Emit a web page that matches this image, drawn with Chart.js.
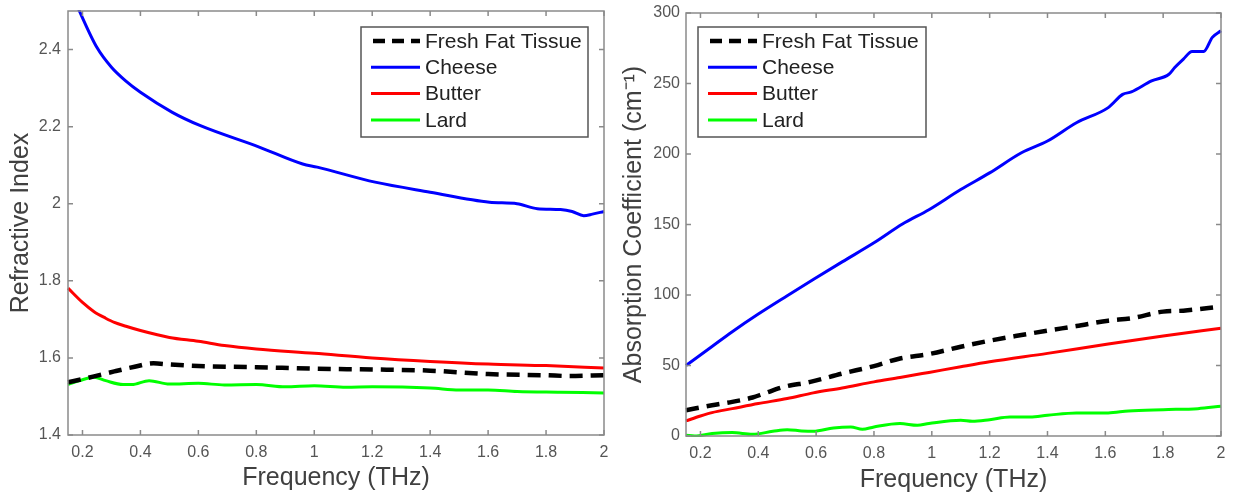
<!DOCTYPE html>
<html>
<head>
<meta charset="utf-8">
<script src="https://cdn.jsdelivr.net/npm/chart.js@4.4.1/dist/chart.umd.min.js"></script>
<style>
  html, body { margin: 0; padding: 0; background: #ffffff; }
  #wrap { position: relative; width: 1233px; height: 497px; overflow: hidden; }
  .panel { position: absolute; top: 0; height: 497px; }
  #p1 { left: 0; width: 616px; }
  #p2 { left: 616px; width: 617px; }
</style>
</head>
<body>
<div id="wrap">
  <div class="panel" id="p1"><canvas id="c1"></canvas></div>
  <div class="panel" id="p2"><canvas id="c2"></canvas></div>
</div>
<script>
// ---- series names and tick values ----
const seriesNames = ['Fresh Fat Tissue', 'Cheese', 'Butter', 'Lard'];
const freqTicks  = [0.2, 0.4, 0.6, 0.8, 1, 1.2, 1.4, 1.6, 1.8, 2];
const indexTicks = [1.4, 1.6, 1.8, 2, 2.2, 2.4];
const absTicks   = [0, 50, 100, 150, 200, 250, 300];

// ---- refractive index (THz, n) ----
const riFatFreq = [0.15, 0.2, 0.24, 0.31, 0.38, 0.445, 0.5, 0.6, 0.8, 1.0, 1.2, 1.4, 1.6, 1.8, 1.88, 2.0];
const riFatVal  = [1.537, 1.545, 1.552, 1.565, 1.577, 1.586, 1.583, 1.579, 1.576, 1.572, 1.570, 1.567, 1.558, 1.555, 1.553, 1.555];

const riCheeseFreq = [0.15, 0.19, 0.25, 0.3, 0.35, 0.4, 0.51, 0.605, 0.81, 0.96, 1.01, 1.21, 1.4, 1.605, 1.7, 1.77, 1.85, 1.89, 1.93, 1.96, 2.0];
const riCheeseVal  = [2.57, 2.499, 2.405, 2.354, 2.318, 2.289, 2.237, 2.203, 2.147, 2.103, 2.095, 2.056, 2.030, 2.004, 2.000, 1.987, 1.985, 1.980, 1.969, 1.973, 1.980];

const riButterFreq = [0.15, 0.2, 0.24, 0.28, 0.31, 0.35, 0.4, 0.5, 0.6, 0.69, 0.8, 1.0, 1.2, 1.4, 1.6, 1.8, 2.0];
const riButterVal  = [1.781, 1.744, 1.720, 1.703, 1.692, 1.682, 1.671, 1.653, 1.643, 1.632, 1.623, 1.612, 1.600, 1.591, 1.584, 1.580, 1.574];

const riLardFreq = [0.15, 0.19, 0.24, 0.28, 0.34, 0.37, 0.43, 0.5, 0.6, 0.69, 0.8, 0.9, 1.0, 1.11, 1.2, 1.4, 1.5, 1.6, 1.7, 1.85, 2.0];
const riLardVal  = [1.531, 1.541, 1.550, 1.541, 1.531, 1.531, 1.541, 1.532, 1.534, 1.530, 1.531, 1.525, 1.528, 1.524, 1.525, 1.522, 1.517, 1.517, 1.513, 1.511, 1.509];

// ---- absorption coefficient (THz, cm^-1) ----
const acFatFreq = [0.15, 0.24, 0.31, 0.38, 0.42, 0.49, 0.58, 0.69, 0.8, 0.89, 0.99, 1.1, 1.2, 1.31, 1.4, 1.5, 1.61, 1.69, 1.8, 1.87, 2.0];
const acFatVal  = [18.3, 21.8, 24.2, 27.3, 30.1, 34.9, 38.4, 44.3, 49.6, 55.0, 58.1, 63.3, 67.6, 71.6, 74.7, 78.0, 81.8, 83.5, 88.2, 88.9, 91.8];

const acCheeseFreq = [0.15, 0.24, 0.31, 0.4, 0.5, 0.59, 0.69, 0.8, 0.9, 0.99, 1.1, 1.2, 1.31, 1.4, 1.5, 1.61, 1.66, 1.69, 1.76, 1.82, 1.84, 1.87, 1.9, 1.94, 1.97, 2.0];
const acCheeseVal  = [50.0, 63.5, 74.0, 86.5, 99.5, 111.0, 123.5, 137.0, 150.5, 160.5, 174.8, 186.6, 200.9, 209.2, 222.2, 232.9, 242.3, 244.0, 251.8, 256.6, 261.3, 267.3, 272.7, 272.7, 282.7, 287.4];

const acButterFreq = [0.15, 0.2, 0.24, 0.31, 0.4, 0.5, 0.59, 0.69, 0.8, 0.89, 0.99, 1.1, 1.2, 1.4, 1.61, 1.8, 2.0];
const acButterVal  = [10.7, 14.2, 16.6, 19.4, 23.0, 26.6, 30.6, 34.1, 38.4, 41.5, 45.1, 49.1, 52.6, 58.6, 65.2, 70.9, 76.4];

const acLardFreq = [0.15, 0.18, 0.24, 0.31, 0.38, 0.45, 0.5, 0.55, 0.59, 0.66, 0.72, 0.76, 0.8, 0.89, 0.95, 0.99, 1.1, 1.14, 1.2, 1.27, 1.34, 1.4, 1.5, 1.61, 1.68, 1.8, 1.92, 2.0];
const acLardVal  = [0.5, 0.0, 1.7, 2.4, 1.2, 3.3, 4.5, 3.6, 3.3, 5.7, 6.4, 4.7, 6.4, 8.8, 7.6, 8.8, 11.1, 10.4, 11.6, 13.5, 13.5, 14.7, 16.4, 16.4, 17.8, 18.7, 19.4, 21.1];

// ---- helpers ----
const FONT = "'Liberation Sans', Arial, Helvetica, sans-serif";
const toPoints = (xs, ys) => xs.map((x, i) => ({ x: x, y: ys[i] }));

const lineStyles = [
  { borderColor: '#000000', borderWidth: 4.5, borderDash: [13, 8] },
  { borderColor: '#0000ff', borderWidth: 3,   borderDash: [] },
  { borderColor: '#ff0000', borderWidth: 3,   borderDash: [] },
  { borderColor: '#00ff00', borderWidth: 3,   borderDash: [] }
];

function makeDatasets(pairs) {
  return pairs.map((p, i) => Object.assign({
    label: seriesNames[i],
    data: toPoints(p[0], p[1]),
    pointRadius: 0,
    cubicInterpolationMode: 'monotone',
    fill: false,
    borderJoinStyle: 'round',
    clip: 1
  }, lineStyles[i]));
}

// Axes box with inward tick marks on all four sides
const boxPlugin = {
  id: 'boxFrame',
  afterDatasetsDraw(chart) {
    const { ctx, chartArea: a, scales } = chart;
    const len = 5;
    ctx.save();
    ctx.strokeStyle = '#8a8a8a';
    ctx.lineWidth = 1.5;
    ctx.beginPath();
    scales.x.ticks.forEach((t, i) => {
      const px = scales.x.getPixelForTick(i);
      ctx.moveTo(px, a.bottom); ctx.lineTo(px, a.bottom - len);
      ctx.moveTo(px, a.top);    ctx.lineTo(px, a.top + len);
    });
    scales.y.ticks.forEach((t, i) => {
      const py = scales.y.getPixelForTick(i);
      ctx.moveTo(a.left, py);  ctx.lineTo(a.left + len, py);
      ctx.moveTo(a.right, py); ctx.lineTo(a.right - len, py);
    });
    ctx.stroke();
    ctx.strokeRect(a.left, a.top, a.right - a.left, a.bottom - a.top);
    ctx.restore();
  }
};

// Boxed legend drawn inside the plot area
const boxLegend = {
  id: 'boxLegend',
  afterDraw(chart, args, opts) {
    const { ctx, chartArea: a } = chart;
    const w = opts.width, h = opts.height;
    const x0 = opts.anchor === 'right' ? a.right - opts.dx - w : a.left + opts.dx;
    const y0 = a.top + opts.dy;
    ctx.save();
    ctx.fillStyle = '#ffffff';
    ctx.fillRect(x0, y0, w, h);
    ctx.strokeStyle = '#555555';
    ctx.lineWidth = 1.5;
    ctx.strokeRect(x0, y0, w, h);
    ctx.font = '21px ' + FONT;
    ctx.textBaseline = 'middle';
    ctx.textAlign = 'left';
    chart.data.datasets.forEach((ds, i) => {
      const cy = y0 + 14 + i * 26.3;
      const dashed = ds.borderDash && ds.borderDash.length;
      ctx.beginPath();
      ctx.strokeStyle = ds.borderColor;
      ctx.lineWidth = ds.borderWidth;
      ctx.setLineDash(dashed ? [12, 7] : []);
      ctx.lineDashOffset = dashed ? -2 : 0;
      ctx.moveTo(x0 + 10, cy);
      ctx.lineTo(x0 + 59, cy);
      ctx.stroke();
      ctx.setLineDash([]);
      ctx.fillStyle = '#222222';
      ctx.fillText(ds.label, x0 + 64, cy + 1);
    });
    ctx.restore();
  }
};

function makeChart(canvasId, datasets, yTicks, yMin, yMax, yTitle, geo) {
  return new Chart(document.getElementById(canvasId), {
    type: 'line',
    data: { datasets: datasets },
    plugins: [boxPlugin, boxLegend],
    options: {
      responsive: true,
      maintainAspectRatio: false,
      animation: false,
      events: [],
      layout: { padding: { top: geo.top, right: geo.right, left: 0, bottom: 0 } },
      plugins: {
        legend: { display: false },
        tooltip: { enabled: false },
        boxLegend: geo.legend
      },
      scales: {
        x: {
          type: 'linear',
          min: 0.15,
          max: 2,
          afterBuildTicks: s => { s.ticks = freqTicks.map(v => ({ value: v })); },
          afterFit: s => { s.height = geo.xHeight; s.paddingLeft = 0; s.paddingRight = 0; },
          grid: { display: false, drawTicks: false },
          border: { display: false },
          ticks: {
            padding: geo.xTickPad,
            color: '#555555',
            font: { family: FONT, size: 16 },
            maxRotation: 0,
            autoSkip: false,
            callback: v => String(v)
          },
          title: {
            display: true,
            text: 'Frequency (THz)',
            color: '#404040',
            font: { family: FONT, size: 25 },
            padding: { top: 0, bottom: geo.xTitlePad }
          }
        },
        y: {
          type: 'linear',
          min: yMin,
          max: yMax,
          afterBuildTicks: s => { s.ticks = yTicks.map(v => ({ value: v })); },
          afterFit: s => { s.width = geo.yWidth; s.paddingTop = 0; s.paddingBottom = 0; },
          grid: { display: false, drawTicks: false },
          border: { display: false },
          ticks: {
            padding: geo.yTickPad,
            color: '#555555',
            font: { family: FONT, size: 16 },
            autoSkip: false,
            callback: v => String(v)
          },
          title: {
            display: true,
            text: yTitle,
            color: '#404040',
            font: { family: FONT, size: 25 },
            padding: { top: geo.yTitlePad, bottom: 0 }
          }
        }
      }
    }
  });
}

makeChart('c1',
  makeDatasets([[riFatFreq, riFatVal], [riCheeseFreq, riCheeseVal], [riButterFreq, riButterVal], [riLardFreq, riLardVal]]),
  indexTicks, 1.4, 2.5, 'Refractive Index',
  { top: 11, right: 12, xHeight: 62, yWidth: 68, xTickPad: 8, yTickPad: 7, xTitlePad: 4, yTitlePad: 6,
    legend: { anchor: 'right', dx: 16, dy: 16, width: 227, height: 110 } });

makeChart('c2',
  makeDatasets([[acFatFreq, acFatVal], [acCheeseFreq, acCheeseVal], [acButterFreq, acButterVal], [acLardFreq, acLardVal]]),
  absTicks, 0, 300, 'Absorption Coefficient (cm\u207B\u00B9)',
  { top: 13, right: 12, xHeight: 61, yWidth: 70, xTickPad: 8, yTickPad: 6, xTitlePad: 2, yTitlePad: 3,
    legend: { anchor: 'left', dx: 12, dy: 14, width: 228, height: 110 } });
</script>
</body>
</html>
